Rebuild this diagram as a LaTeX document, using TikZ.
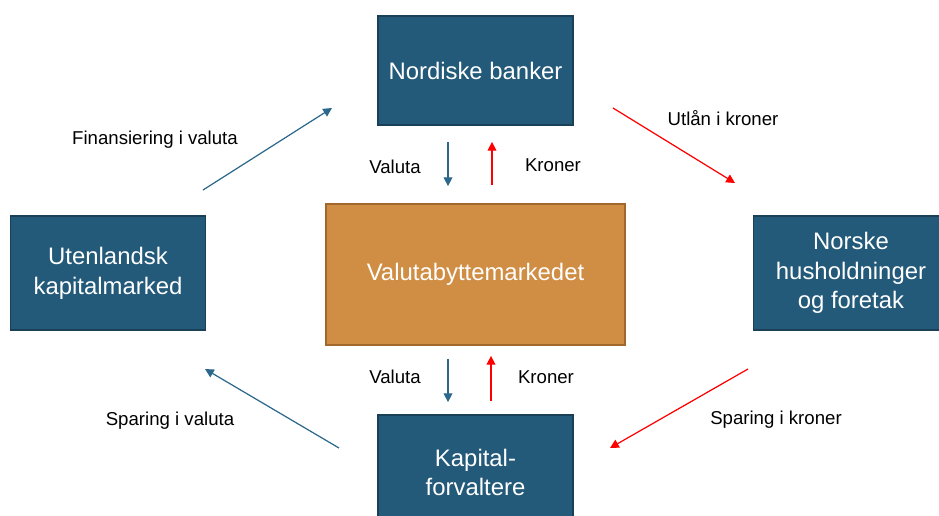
\documentclass[tikz,border=0pt]{standalone}
\usepackage{fontspec}
\setmainfont{Liberation Sans}
\usepackage{tikz}
\usetikzlibrary{arrows.meta, positioning, calc}
\definecolor{nbblue}{RGB}{35,89,121}
\definecolor{nbedge}{RGB}{26,64,88}
\definecolor{arrblue}{RGB}{44,104,140}
\definecolor{mktorange}{RGB}{208,141,68}
\definecolor{mktedge}{RGB}{160,104,45}
\definecolor{kronred}{RGB}{255,0,0}

\begin{document}
\begin{tikzpicture}[
  x=0.02cm, y=-0.02cm,
  font=\fontsize{13.6}{16.9}\selectfont,
  actor/.style={rectangle, draw=nbedge, line width=1pt, fill=nbblue, text=white,
              align=center, minimum width=3.9cm, minimum height=2.28cm},
  market/.style={rectangle, draw=mktedge, line width=1pt, fill=mktorange, text=white,
              align=center, minimum width=5.98cm, minimum height=2.82cm},
  lbl/.style={font=\fontsize{10.6}{12}\selectfont, text=black},
  bluearr/.style={-{Triangle[width=5pt,length=5pt]}, line width=0.7pt, arrblue},
  redarr/.style={-{Triangle[width=5pt,length=5pt]}, line width=0.7pt, kronred},
]
\useasboundingbox (0,0) rectangle (939,515);

\node[actor, minimum height=2.18cm] (nb) at (475.5,70.5) {Nordiske banker};
\node[market] (vm) at (475.5,274.5) {Valutabyttemarkedet};
\node[actor] (uk) at (108,273) {Utenlandsk\\kapitalmarked};
\node[actor] (nh) at (851,273) {Norske\\husholdninger\\og foretak};
\node[actor, minimum height=2.3cm] (kf) at (475.5,472.5) {Kapital-\\forvaltere};

% free ends of the flows round the market
\coordinate (finA) at (203,190);
\coordinate (finB) at (332,108);
\coordinate (utlA) at (613,108);
\coordinate (utlB) at (735,183);
\coordinate (spkA) at (748,369);
\coordinate (spkB) at (610,448);
\coordinate (spvA) at (339,448);
\coordinate (spvB) at (205,369);

\draw[bluearr] (finA) -- (finB);
\draw[redarr] (utlA) -- (utlB);
\draw[redarr] (spkA) -- (spkB);
\draw[bluearr] (spvA) -- (spvB);

\draw[bluearr] ([xshift=-0.55cm,yshift=-0.32cm]nb.south) -- ([xshift=-0.55cm,yshift=0.34cm]vm.north);
\draw[redarr] ([xshift=0.33cm,yshift=0.36cm]vm.north) -- ([xshift=0.33cm,yshift=-0.32cm]nb.south);
\draw[bluearr] ([xshift=-0.55cm,yshift=-0.26cm]vm.south) -- ([xshift=-0.55cm,yshift=0.24cm]kf.north);
\draw[redarr] ([xshift=0.31cm,yshift=0.26cm]kf.north) -- ([xshift=0.31cm,yshift=-0.2cm]vm.south);

\node[lbl] (lfin) at (155,140) {Finansiering i valuta};
\node[lbl] (lutl) at (723,118) {Utlån i kroner};
\node[lbl] (lspk) at (776,420) {Sparing i kroner};
\node[lbl] (lspv) at (170,421) {Sparing i valuta};
\node[lbl] (lval1) at (395,167) {Valuta};
\node[lbl] (lkr1) at (553,165) {Kroner};
\node[lbl] (lval2) at (395,377) {Valuta};
\node[lbl] (lkr2) at (546,377) {Kroner};

\end{tikzpicture}
\end{document}
